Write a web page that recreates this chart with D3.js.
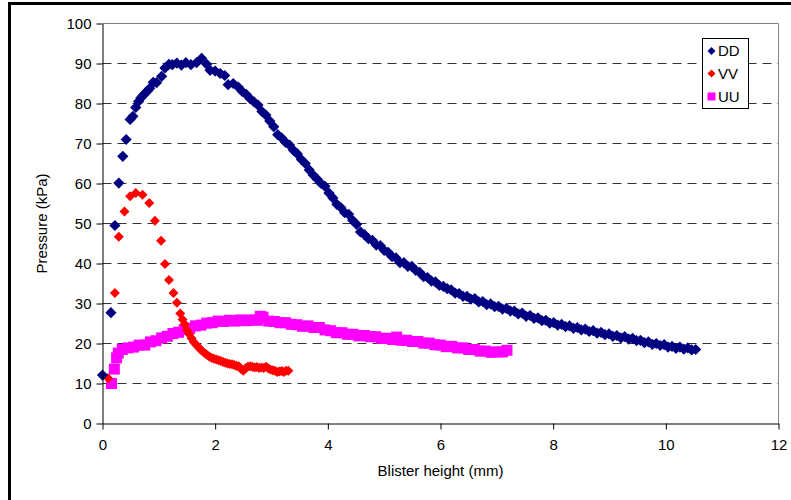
<!DOCTYPE html>
<html>
<head>
<meta charset="utf-8">
<script src="https://cdn.jsdelivr.net/npm/d3@7"></script>
<style>
  body { margin: 0; background: #fff; }
  text { font-family: 'Liberation Sans', Arial, sans-serif; fill: #000; }
</style>
</head>
<body>
<div id="chart"></div>
<script>
// blister tests: pressure against blister height, one series per specimen
const seriesNames = ['DD', 'VV', 'UU']
const seriesColors = ['#000080', '#ff0000', '#ff00ff']
const xTicks = [0, 2, 4, 6, 8, 10, 12]
const yTicks = [0, 10, 20, 30, 40, 50, 60, 70, 80, 90, 100]

const ddPoints = [
  [0.00, 12.1], [0.15, 27.7], [0.22, 49.5], [0.29, 60.1], [0.36, 66.8], [0.42, 71.0],
  [0.49, 76.0], [0.54, 76.8], [0.59, 79.0], [0.64, 80.5], [0.68, 81.4], [0.72, 82.0],
  [0.76, 82.6], [0.80, 83.2], [0.84, 83.8], [0.90, 85.3], [0.96, 85.2], [1.05, 86.8],
  [1.11, 88.9], [1.18, 89.8], [1.24, 89.7], [1.32, 90.1], [1.40, 89.6], [1.48, 90.2],
  [1.57, 89.7], [1.67, 90.2], [1.76, 91.3], [1.85, 89.8], [1.91, 88.3], [2.00, 88.1],
  [2.09, 87.5], [2.17, 87.0], [2.23, 84.7], [2.32, 85.0], [2.41, 84.1], [2.48, 83.0],
  [2.55, 82.3], [2.62, 81.2], [2.69, 80.4], [2.76, 79.6], [2.83, 78.0], [2.90, 77.1],
  [2.97, 75.6], [3.04, 74.2], [3.11, 72.2], [3.18, 71.4], [3.25, 70.3], [3.32, 69.6],
  [3.39, 68.3], [3.46, 67.4], [3.53, 66.0], [3.60, 65.0], [3.67, 63.4], [3.74, 62.1],
  [3.81, 61.1], [3.88, 60.0], [3.95, 59.3], [4.02, 57.6], [4.09, 56.4], [4.16, 54.8],
  [4.23, 54.0], [4.30, 52.7], [4.37, 52.3], [4.44, 50.8], [4.51, 49.8], [4.58, 47.9],
  [4.65, 47.2], [4.72, 46.2], [4.79, 45.8], [4.86, 44.6], [4.93, 44.5], [5.00, 43.3],
  [5.07, 42.8], [5.14, 41.7], [5.21, 41.4], [5.28, 40.2], [5.35, 40.2], [5.42, 39.3],
  [5.49, 39.3], [5.56, 38.3], [5.63, 37.8], [5.70, 36.7], [5.77, 36.5], [5.84, 35.6],
  [5.91, 35.4], [5.98, 34.5], [6.05, 34.3], [6.12, 33.7], [6.19, 33.4], [6.26, 32.6],
  [6.33, 32.5], [6.40, 31.8], [6.47, 31.8], [6.54, 31.1], [6.61, 31.2], [6.68, 30.4],
  [6.75, 30.5], [6.82, 29.7], [6.89, 29.9], [6.96, 29.2], [7.03, 29.3], [7.10, 28.6],
  [7.17, 28.8], [7.24, 28.1], [7.31, 28.1], [7.38, 27.4], [7.45, 27.6], [7.52, 26.8],
  [7.59, 27.0], [7.66, 26.3], [7.73, 26.4], [7.80, 25.7], [7.87, 25.8], [7.94, 25.1],
  [8.01, 25.2], [8.08, 24.6], [8.15, 24.8], [8.22, 24.2], [8.29, 24.4], [8.36, 23.8],
  [8.43, 24.0], [8.50, 23.4], [8.57, 23.6], [8.64, 23.0], [8.71, 23.2], [8.78, 22.6],
  [8.85, 22.8], [8.92, 22.2], [8.99, 22.4], [9.06, 21.8], [9.13, 22.0], [9.20, 21.4],
  [9.27, 21.7], [9.34, 21.1], [9.41, 21.3], [9.48, 20.7], [9.55, 20.8], [9.62, 20.2],
  [9.69, 20.4], [9.76, 19.8], [9.83, 20.0], [9.90, 19.5], [9.97, 19.7], [10.04, 19.1],
  [10.11, 19.3], [10.18, 18.8], [10.25, 19.1], [10.32, 18.6], [10.39, 18.9], [10.46, 18.4],
  [10.53, 18.5]
]

const vvPoints = [
  [0.10, 11.3], [0.22, 32.6], [0.29, 46.7], [0.39, 53.0], [0.49, 56.8], [0.59, 57.6],
  [0.71, 57.2], [0.83, 55.1], [0.93, 50.7], [1.04, 45.7], [1.11, 39.9], [1.18, 35.9],
  [1.26, 32.6], [1.32, 30.2], [1.38, 27.5], [1.42, 26.0], [1.46, 24.8], [1.50, 23.4],
  [1.54, 22.3], [1.58, 21.3], [1.62, 20.4], [1.66, 19.7], [1.70, 19.1], [1.74, 18.5],
  [1.78, 18.0], [1.82, 17.5], [1.86, 17.1], [1.90, 16.7], [1.94, 16.4], [1.98, 16.2],
  [2.02, 16.0], [2.06, 15.8], [2.10, 15.6], [2.14, 15.4], [2.18, 15.2], [2.22, 15.0],
  [2.26, 14.9], [2.30, 14.8], [2.34, 14.6], [2.38, 14.4], [2.42, 14.3], [2.46, 13.6],
  [2.50, 13.2], [2.54, 13.8], [2.58, 14.2], [2.62, 14.3], [2.66, 14.2], [2.70, 14.0],
  [2.74, 14.1], [2.78, 13.9], [2.82, 14.0], [2.86, 13.9], [2.90, 14.2], [2.94, 13.8],
  [2.98, 13.5], [3.02, 13.3], [3.06, 13.2], [3.10, 12.9], [3.14, 13.0], [3.18, 13.1],
  [3.22, 12.9], [3.26, 13.2], [3.30, 13.2]
]

const uuPoints = [
  [0.16, 10.0], [0.21, 13.6], [0.25, 16.4], [0.28, 17.6], [0.35, 18.5], [0.45, 18.9],
  [0.55, 19.1], [0.65, 19.6], [0.75, 19.6], [0.85, 20.4], [0.95, 20.7], [1.05, 21.4],
  [1.15, 21.8], [1.25, 22.5], [1.35, 22.8], [1.45, 23.5], [1.55, 23.8], [1.65, 24.4],
  [1.75, 24.6], [1.85, 25.1], [1.95, 25.2], [2.05, 25.6], [2.15, 25.5], [2.25, 25.8],
  [2.35, 25.6], [2.45, 25.9], [2.55, 25.7], [2.65, 25.9], [2.75, 25.8], [2.80, 26.8],
  [2.85, 26.6], [2.95, 25.6], [3.05, 25.5], [3.15, 25.2], [3.25, 25.2], [3.35, 24.8],
  [3.45, 24.7], [3.55, 24.3], [3.65, 24.4], [3.75, 24.0], [3.85, 24.0], [3.95, 23.4],
  [4.05, 23.2], [4.15, 22.7], [4.25, 22.7], [4.35, 22.3], [4.45, 22.3], [4.55, 21.9],
  [4.65, 22.0], [4.75, 21.7], [4.85, 21.7], [4.95, 21.3], [5.05, 21.3], [5.15, 21.0],
  [5.22, 21.6], [5.30, 20.8], [5.40, 20.8], [5.50, 20.5], [5.60, 20.5], [5.70, 20.1],
  [5.80, 20.1], [5.90, 19.7], [6.00, 19.6], [6.10, 19.2], [6.20, 19.3], [6.30, 18.9],
  [6.40, 18.9], [6.50, 18.5], [6.60, 18.5], [6.70, 18.1], [6.80, 18.1], [6.90, 17.8],
  [7.00, 17.9], [7.10, 17.9], [7.18, 18.3]
]

const allSeries = [ddPoints, vvPoints, uuPoints]
const markerShapes = ['diamond', 'diamond', 'square']

var width = 791, height = 500
var plotLeft = 102.5, plotRight = 778.5, plotTop = 23.5, plotBottom = 423.5

var svg = d3.select('#chart').
  append('svg').
  attr('width', width).
  attr('height', height)

// outer frame, only the top and left edges fall inside the window
svg.append('rect').
  attr('x', 9.5).attr('y', 3.5).
  attr('width', 820).attr('height', 540).
  attr('fill', '#fff').
  attr('stroke', '#000').
  attr('stroke-width', 3)

var x = d3.scaleLinear().domain([0, 12]).range([plotLeft, plotRight])
var y = d3.scaleLinear().domain([0, 100]).range([plotBottom, plotTop])

// dashed gridlines
svg.append('g').
  selectAll('line').
  data(yTicks.filter(d => d > 0 && d < 100)).
  enter().
  append('line').
  attr('x1', plotLeft).attr('x2', plotRight).
  attr('y1', d => y(d)).attr('y2', d => y(d)).
  attr('stroke', '#333').
  attr('stroke-dasharray', '9,6')

// gray plot-area border on top and right
svg.append('path').
  attr('d', `M${plotLeft},${plotTop}H${plotRight}V${plotBottom}`).
  attr('fill', 'none').
  attr('stroke', '#808080')

var symbolPath = (shape, r) => shape === 'square' ?
  `M${-r},${-r}H${r}V${r}H${-r}Z` :
  `M0,${-r}L${r},0L0,${r}L${-r},0Z`

var markerSize = [5.6, 5, 5.5]

// UU underneath, DD on top
for (var i = allSeries.length - 1; i >= 0; i--) {
  svg.append('g').
    selectAll('path').
    data(allSeries[i]).
    enter().
    append('path').
    attr('transform', d => `translate(${x(d[0])},${y(d[1])})`).
    attr('d', symbolPath(markerShapes[i], markerSize[i])).
    attr('fill', seriesColors[i])
}

var xAxis = d3.axisBottom(x).tickValues(xTicks).tickSize(6).tickSizeOuter(0).tickPadding(10)
var yAxis = d3.axisLeft(y).tickValues(yTicks).tickSize(6).tickSizeOuter(0).tickPadding(5)

svg.append('g').
  attr('transform', `translate(0,${plotBottom})`).
  call(xAxis)

svg.append('g').
  attr('transform', `translate(${plotLeft},0)`).
  call(yAxis)

svg.selectAll('.domain, .tick line').attr('stroke', '#000')
svg.selectAll('.tick text').
  attr('font-family', null).
  style('font-size', '15px')

svg.append('text').
  attr('x', (plotLeft + plotRight) / 2).
  attr('y', 476).
  attr('text-anchor', 'middle').
  style('font-size', '15px').
  text('Blister height (mm)')

svg.append('text').
  attr('transform', `translate(47,${(plotTop + plotBottom) / 2}) rotate(-90)`).
  attr('text-anchor', 'middle').
  style('font-size', '15px').
  text('Pressure (kPa)')

// legend
var legend = svg.append('g')
legend.append('rect').
  attr('x', 702.5).attr('y', 38.5).
  attr('width', 46).attr('height', 70).
  attr('fill', '#fff').
  attr('stroke', '#000')

var legendY = [51, 73.5, 96.5]
seriesNames.forEach((name, i) => {
  legend.append('path').
    attr('transform', `translate(711.5,${legendY[i]})`).
    attr('d', symbolPath(markerShapes[i], 4)).
    attr('fill', seriesColors[i])
  legend.append('text').
    attr('x', 718).
    attr('y', legendY[i]).
    attr('dy', '0.36em').
    style('font-size', '15px').
    text(name)
})
</script>
</body>
</html>
